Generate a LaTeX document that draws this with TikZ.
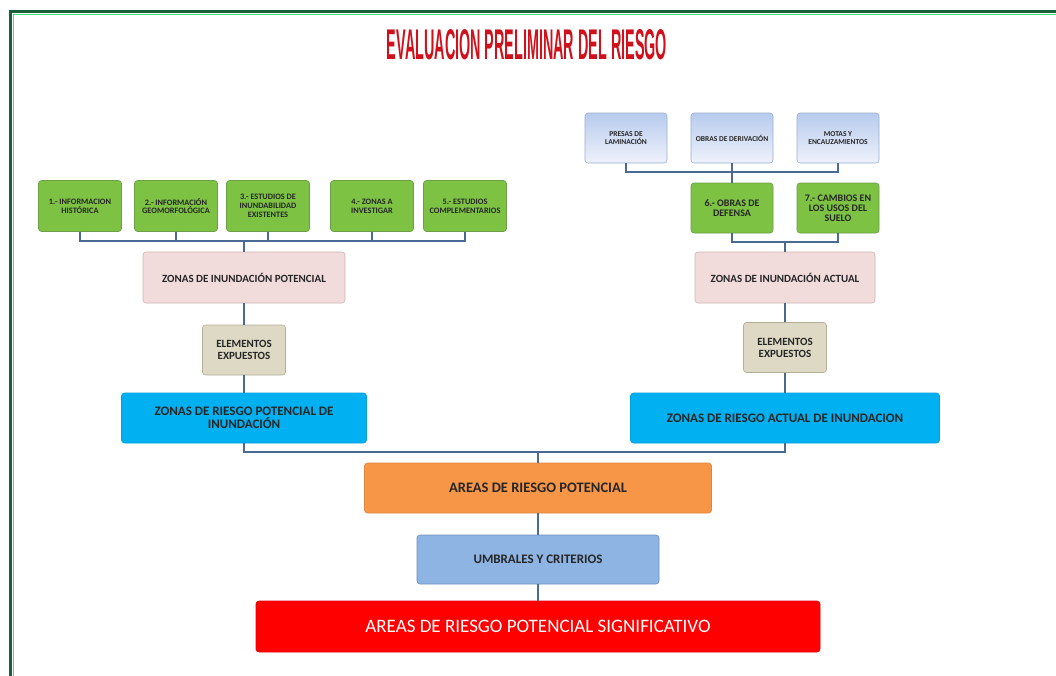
\documentclass[tikz,border=0pt]{standalone}
\usepackage{fontspec}
\setmainfont{Carlito}
\newfontfamily\titfont{Liberation Sans}
\usepackage{graphicx}

\definecolor{marco}{HTML}{1D5E3A}
\definecolor{marcoclaro}{HTML}{3FDC8C}
\definecolor{tituloc}{HTML}{D0101A}
\definecolor{linea}{HTML}{4B6A93}
\definecolor{verdef}{HTML}{7DC243}
\definecolor{verded}{HTML}{6B9E45}
\definecolor{azulsup}{HTML}{B8CBEE}
\definecolor{azulinf}{HTML}{EEF2FB}
\definecolor{azuld}{HTML}{9AAFD0}
\definecolor{rosaf}{HTML}{F2DCDB}
\definecolor{rosad}{HTML}{CFB3B2}
\definecolor{beigef}{HTML}{DDD9C4}
\definecolor{beiged}{HTML}{B3AE98}
\definecolor{cianf}{HTML}{00B0F0}
\definecolor{naranjaf}{HTML}{F79646}
\definecolor{celestef}{HTML}{8DB4E2}
\definecolor{celested}{HTML}{6E90C0}
\definecolor{rojof}{HTML}{FF0000}

\tikzset{
  caja/.style={rectangle, rounded corners=3pt, inner sep=1pt, align=center,
    text=black!85, line width=0.6pt},
  verde/.style={caja, fill=verdef, draw=verded, minimum width=83pt, minimum height=51pt,
    font=\fontsize{8.3}{8.8}\selectfont\bfseries},
  verdeg/.style={verde, minimum width=82pt, minimum height=50pt,
    font=\fontsize{10}{10}\selectfont\bfseries},
  azulclaro/.style={caja, top color=azulsup, bottom color=azulinf, draw=azuld,
    minimum width=82pt, minimum height=50pt, font=\fontsize{7.5}{8.3}\selectfont\bfseries},
  rosa/.style={caja, fill=rosaf, draw=rosad, minimum height=51pt,
    font=\fontsize{11}{13}\selectfont\bfseries},
  beige/.style={caja, fill=beigef, draw=beiged, minimum width=83pt, minimum height=50pt,
    font=\fontsize{11}{12}\selectfont\bfseries},
  cian/.style={caja, fill=cianf, draw=cianf!90!black, minimum height=50pt,
    font=\fontsize{13}{13}\selectfont\bfseries},
  conector/.style={draw=linea, line width=2pt}
}

\begin{document}
\begin{tikzpicture}[x=1pt, y=-1pt]
  \path[use as bounding box, fill=white] (0,0) rectangle (1056,675);
  % marco verde
  \draw[line width=3pt, marco] (10,676) -- (10,11) -- (1057,11);
  \draw[line width=1pt, marcoclaro] (13,676) -- (13,14) -- (1057,14);

  % titulo
  \node (titulo) at (527,45) {\resizebox{280pt}{30pt}{\titfont\bfseries\color{tituloc}EVALUACION PRELIMINAR DEL RIESGO}};

  % rama potencial
  \node[verde] (g1) at (80,206) {1.- INFORMACION\\HISTÓRICA};
  \node[verde] (g2) at (176,206) {2.- INFORMACIÓN\\GEOMORFOLÓGICA};
  \node[verde] (g3) at (268,206) {3.- ESTUDIOS DE\\INUNDABILIDAD\\EXISTENTES};
  \node[verde] (g4) at (372,206) {4.- ZONAS A\\INVESTIGAR};
  \node[verde] (g5) at (465,206) {5.- ESTUDIOS\\COMPLEMENTARIOS};
  \node[rosa, minimum width=202pt] (zip) at (244,277.5) {ZONAS DE INUNDACIÓN POTENCIAL};
  \node[beige] (elp) at (244,350) {ELEMENTOS\\EXPUESTOS};
  \node[cian, minimum width=245pt] (zrp) at (244,418) {ZONAS DE RIESGO POTENCIAL DE\\INUNDACIÓN};

  % rama actual
  \node[azulclaro] (pl) at (626,138) {PRESAS DE\\LAMINACIÓN};
  \node[azulclaro] (od) at (732,138) {OBRAS DE DERIVACIÓN};
  \node[azulclaro] (me) at (838,138) {MOTAS Y\\ENCAUZAMIENTOS};
  \node[verdeg] (g6) at (732,208) {6.- OBRAS DE\\DEFENSA};
  \node[verdeg] (g7) at (838,208) {7.- CAMBIOS EN\\LOS USOS DEL\\SUELO};
  \node[rosa, minimum width=180pt] (zia) at (785,277.5) {ZONAS DE INUNDACIÓN ACTUAL};
  \node[beige] (ela) at (785,347.5) {ELEMENTOS\\EXPUESTOS};
  \node[cian, minimum width=309pt] (zra) at (785,418) {ZONAS DE RIESGO ACTUAL DE INUNDACION};

  % parte comun
  \node[caja, fill=naranjaf, draw=naranjaf!90!black, minimum width=347pt, minimum height=50pt,
    font=\fontsize{14.5}{16}\selectfont\bfseries] (arp) at (538,488) {AREAS DE RIESGO POTENCIAL};
  \node[caja, fill=celestef, draw=celested, minimum width=242pt, minimum height=49pt,
    font=\fontsize{13}{15}\selectfont\bfseries] (umb) at (538,559.5) {UMBRALES Y CRITERIOS};
  \node[caja, fill=rojof, draw=rojof!90!black, minimum width=564pt, minimum height=51pt,
    text=white, font=\fontsize{19}{22}\selectfont] (arps) at (538,626.5) {AREAS DE RIESGO POTENCIAL SIGNIFICATIVO};

  % conectores
  \coordinate (b1) at (244,241);
  \coordinate (b2) at (785,242);
  \coordinate (b3) at (538,452);
  \draw[conector] (g1.south) |- (b1) -| (g5.south);
  \foreach \i in {2,3,4}
    \draw[conector] (g\i.south) -- (g\i.south |- b1);
  \draw[conector] (b1) -- (zip.north);
  \draw[conector] (zip.south) -- (elp.north);
  \draw[conector] (elp.south) -- (zrp.north);

  \draw[conector] (pl.south) |- (od.south |- 0,172) -| (me.south);
  \draw[conector] (od.south) -- (g6.north);
  \draw[conector] (g6.south) |- (b2) -| (g7.south);
  \draw[conector] (b2) -- (zia.north);
  \draw[conector] (zia.south) -- (ela.north);
  \draw[conector] (ela.south) -- (zra.north);

  \draw[conector] (zrp.south) |- (b3) -| (zra.south);
  \draw[conector] (b3) -- (arp.north);
  \draw[conector] (arp.south) -- (umb.north);
  \draw[conector] (umb.south) -- (arps.north);
\end{tikzpicture}
\end{document}
